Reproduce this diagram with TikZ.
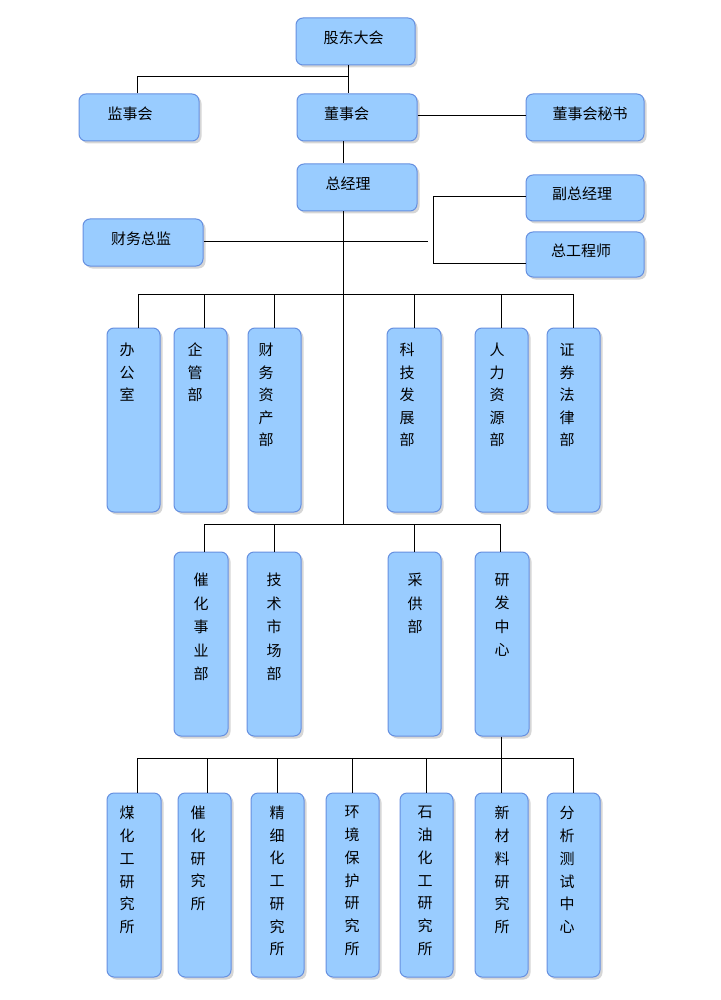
\documentclass[tikz,border=0pt]{standalone}
\usepackage{fontspec}
\newfontfamily\cjk{Noto Sans CJK SC}
\usetikzlibrary{shadows}
\definecolor{boxfill}{HTML}{99CCFF}
\definecolor{boxline}{HTML}{6690E0}
\tikzset{
  orgbox/.style={draw=boxline, fill=boxfill, line width=1pt, rounded corners=7pt, inner sep=0pt,
    drop shadow={shadow xshift=2.5pt, shadow yshift=-2.5pt, fill=black!45, opacity=0.35}},
  hbox/.style={orgbox, minimum width=119pt, minimum height=47pt},
  vbox/.style={orgbox, minimum width=53pt, minimum height=184pt},
  hlabel/.style={font=\cjk\fontsize{15}{18}\selectfont, inner sep=0pt},
  vlabA/.style={font=\cjk\fontsize{15}{22.5}\selectfont, inner sep=0pt, align=center},
  vlabB/.style={font=\cjk\fontsize{15}{23.5}\selectfont, inner sep=0pt, align=center},
  vlabC/.style={font=\cjk\fontsize{15}{22.75}\selectfont, inner sep=0pt, align=center},
  conn/.style={draw=black, line width=1pt},
}
\begin{document}
\begin{tikzpicture}[x=1pt,y=-1pt]
\fill[white] (0,0) rectangle (720,1000);
\useasboundingbox (0,0) rectangle (720,1000);

% ---- top boxes ----
\node[hbox] (gd) at (355.5,41.5) {};
\node[hbox, minimum width=120pt] (jsh) at (139,117.5) {};
\node[hbox, minimum width=120pt] (dsh) at (357,117.5) {};
\node[hbox, minimum width=118pt] (msh) at (585,117.5) {};
\node[hbox, minimum width=120pt] (zjl) at (357,187.5) {};
\node[hbox, minimum width=118pt, minimum height=46pt] (fzjl) at (585,198) {};
\node[hbox, minimum width=118pt, minimum height=45pt] (zgcs) at (585,254.5) {};
\node[hbox, minimum width=120pt] (cwzj) at (143,242.5) {};

\node[hlabel] (gd-t) at (353.5,38) {股东大会};
\node[hlabel] (jsh-t) at (130,113.5) {监事会};
\node[hlabel] (dsh-t) at (346.5,113.5) {董事会};
\node[hlabel] (msh-t) at (590,113.5) {董事会秘书};
\node[hlabel] (zjl-t) at (348,183.5) {总经理};
\node[hlabel] (fzjl-t) at (582,194) {副总经理};
\node[hlabel] (zgcs-t) at (581,250.5) {总工程师};
\node[hlabel] (cwzj-t) at (141,238.5) {财务总监};

% ---- row 1 ----
\node[vbox] (bgs) at (133.5,420) {};
\node[vbox] (qgb) at (200.5,420) {};
\node[vbox] (cwzc) at (274.5,420) {};
\node[vbox, minimum width=54pt] (kjfz) at (414,420) {};
\node[vbox] (rlzy) at (501.5,420) {};
\node[vbox] (zqfl) at (573.5,420) {};

\node[vlabA] (bgs-t) at (127,372.5) {办\\公\\室};
\node[vlabA] (qgb-t) at (195,372.5) {企\\管\\部};
\node[vlabA] (cwzc-t) at (266,395) {财\\务\\资\\产\\部};
\node[vlabA] (kjfz-t) at (407,395) {科\\技\\发\\展\\部};
\node[vlabA] (rlzy-t) at (497,395) {人\\力\\资\\源\\部};
\node[vlabA] (zqfl-t) at (567,395) {证\\券\\法\\律\\部};

% ---- row 2 ----
\node[vbox, minimum width=54pt] (chsy) at (201,644) {};
\node[vbox, minimum width=54pt] (jssc) at (274,644) {};
\node[vbox] (cgb) at (414.5,644) {};
\node[vbox, minimum width=54pt] (yfzx) at (502,644) {};

\node[vlabB] (chsy-t) at (201,627) {催\\化\\事\\业\\部};
\node[vlabB] (jssc-t) at (274,627) {技\\术\\市\\场\\部};
\node[vlabB] (cgb-t) at (415,603.5) {采\\供\\部};
\node[vlabB] (yfzx-t) at (502,615) {研\\发\\中\\心};

% ---- row 3 ----
\node[vbox, minimum width=54pt] (mhg) at (134,885) {};
\node[vbox] (chyj) at (204.5,885) {};
\node[vbox] (jxhg) at (277.5,885) {};
\node[vbox] (hjbh) at (352.5,885) {};
\node[vbox] (syhg) at (426.5,885) {};
\node[vbox] (xcl) at (501.5,885) {};
\node[vbox] (fxcs) at (573.5,885) {};

\node[vlabC] (mhg-t) at (127,870) {煤\\化\\工\\研\\究\\所};
\node[vlabC] (chyj-t) at (198,858.5) {催\\化\\研\\究\\所};
\node[vlabC] (jxhg-t) at (277,881) {精\\细\\化\\工\\研\\究\\所};
\node[vlabC] (hjbh-t) at (352,881) {环\\境\\保\\护\\研\\究\\所};
\node[vlabC] (syhg-t) at (425,881) {石\\油\\化\\工\\研\\究\\所};
\node[vlabC] (xcl-t) at (502,870) {新\\材\\料\\研\\究\\所};
\node[vlabC] (fxcs-t) at (567,870) {分\\析\\测\\试\\中\\心};

% ---- junctions ----
\coordinate (b0) at (348.5,76.5);
\coordinate (bt) at (433.5,196.5);
\coordinate (bb) at (433.5,263.5);
\coordinate (cwend) at (428,241.5);
\coordinate (r1j) at (343.5,294.5);
\coordinate (r2j) at (343.5,524.5);
\coordinate (r3j) at (501.5,758.5);

% ---- connectors ----
\draw[conn] ([xshift=-7pt]gd.south) -- ([xshift=-8.5pt]dsh.north);
\draw[conn] ([xshift=-1.5pt]jsh.north) |- (b0);
\draw[conn] ([xshift=-13.5pt]dsh.south) -- ([xshift=-13.5pt]zjl.north);
\draw[conn] ([yshift=2pt]dsh.east) -- ([yshift=2pt]msh.west);
\draw[conn] ([yshift=1.5pt]fzjl.west) -- (bt) -- (bb) -- ([yshift=-9pt]zgcs.west);
\draw[conn] ([yshift=1pt]cwzj.east) -- (cwend);
\draw[conn] ([xshift=-13.5pt]zjl.south) -- (r2j);

\draw[conn] ([xshift=5pt]bgs.north) |- (r1j);
\draw[conn] ([xshift=4pt]qgb.north) |- (r1j);
\draw[conn] (cwzc.north) |- (r1j);
\draw[conn] ([xshift=0.5pt]kjfz.north) |- (r1j);
\draw[conn] (rlzy.north) |- (r1j);
\draw[conn] (zqfl.north) |- (r1j);

\draw[conn] ([xshift=3.5pt]chsy.north) |- (r2j);
\draw[conn] ([xshift=0.5pt]jssc.north) |- (r2j);
\draw[conn] (cgb.north) |- (r2j);
\draw[conn] ([xshift=-1.5pt]yfzx.north) |- (r2j);

\draw[conn] ([xshift=-0.5pt]yfzx.south) -- (r3j);
\draw[conn] ([xshift=3.5pt]mhg.north) |- (r3j);
\draw[conn] ([xshift=3pt]chyj.north) |- (r3j);
\draw[conn] (jxhg.north) |- (r3j);
\draw[conn] (hjbh.north) |- (r3j);
\draw[conn] (syhg.north) |- (r3j);
\draw[conn] (xcl.north) |- (r3j);
\draw[conn] (fxcs.north) |- (r3j);
\end{tikzpicture}
\end{document}
